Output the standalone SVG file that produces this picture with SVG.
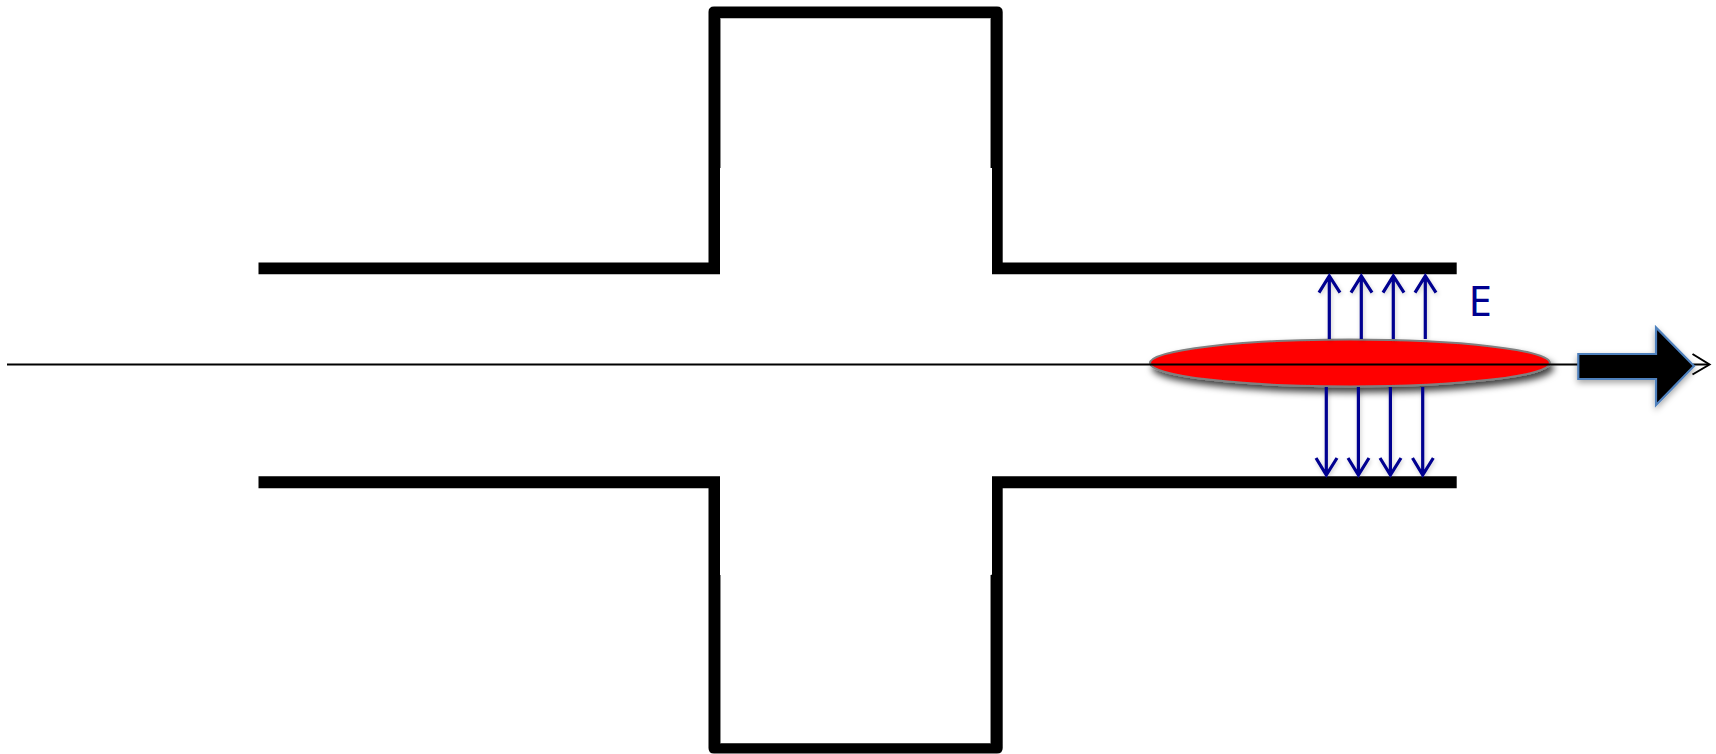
<svg xmlns="http://www.w3.org/2000/svg" width="1716" height="754" viewBox="0 0 1716 754">
  <style>
    .wall { fill: #000; stroke: none; }
    .fringe { fill: none; stroke: #8a8a8a; stroke-width: 1; }
    .field { fill: none; stroke: #000090; stroke-width: 3.2; filter: url(#soft); }
    .axis { fill: none; stroke: #000; stroke-width: 2; }
  </style>
  <defs>
    <filter id="soft" x="-50%" y="-20%" width="200%" height="140%">
      <feDropShadow dx="1" dy="2" stdDeviation="2" flood-color="#000" flood-opacity="0.2"/>
    </filter>
    <filter id="shadow" x="-10%" y="-40%" width="120%" height="190%">
      <feDropShadow dx="3" dy="5" stdDeviation="3.5" flood-color="#000" flood-opacity="0.75"/>
    </filter>
    <filter id="arrowShadow" x="-20%" y="-20%" width="140%" height="140%">
      <feDropShadow dx="0" dy="3" stdDeviation="3" flood-color="#000" flood-opacity="0.35"/>
    </filter>
  </defs>
  <rect width="1716" height="754" fill="#fff"/>
  <g id="cavity-top">
    <path class="fringe" d="M720.5 18.5V168M990.5 18.5V168"/>
    <path class="wall" d="M258.5 262.5H708.5V12Q708.5 6.5 714 6.5H997Q1002.7 6.5 1002.7 12V262.5H1456.7V274.3H992V168H991V18.3H720V274.3H258.5Z"/>
  </g>
  <g id="cavity-bottom">
    <path class="fringe" d="M720.5 575V743M990.5 575V743"/>
    <path class="wall" d="M258.5 476.3H720V743.3H991V574.7H992V476.3H1456.7V488.3H1002.7V748Q1002.7 753.5 997 753.5H714Q708.5 753.5 708.5 748V488.3H258.5Z"/>
  </g>
  <g id="bunch">
    <ellipse cx="1350" cy="363" rx="200" ry="23.5" fill="#ff0000" stroke="#808080" stroke-width="2" filter="url(#shadow)"/>
  </g>
  <g id="connectors">
    <g id="field-up">
      <path class="field" d="M1329.3 339V276M1319 292.7L1329.3 276L1340 292.7"/>
      <path class="field" d="M1361.3 339V276M1351 292.7L1361.3 276L1372 292.7"/>
      <path class="field" d="M1393.3 339V276M1383 292.7L1393.3 276L1404 292.7"/>
      <path class="field" d="M1425.3 339V276M1415 292.7L1425.3 276L1436 292.7"/>
    </g>
    <g id="field-down">
      <path class="field" d="M1326.3 387V475M1316 458L1326.3 475L1337 458"/>
      <path class="field" d="M1358.4 387V475M1348 458L1358.4 475L1369 458"/>
      <path class="field" d="M1390.4 387V475M1380 458L1390.4 475L1401 458"/>
      <path class="field" d="M1422.7 387V475M1412.5 458L1422.7 475L1433.3 458"/>
    </g>
    <g id="axis">
      <path class="axis" d="M7 364.5H1709"/>
      <path class="axis" d="M1692.5 354L1709.5 364.5L1692.5 374.5"/>
    </g>
  </g>
  <g id="direction-arrow">
    <path d="M1578.3 354H1656V327.5L1694 366L1656 405V379H1578.3Z" fill="#000" stroke="#4f81bd" stroke-width="2.2" filter="url(#arrowShadow)"/>
  </g>
  <g id="label-e">
    <text x="1468.6" y="316" font-family="'Noto Sans', sans-serif" font-size="42" fill="#000090">E</text>
  </g>
</svg>
